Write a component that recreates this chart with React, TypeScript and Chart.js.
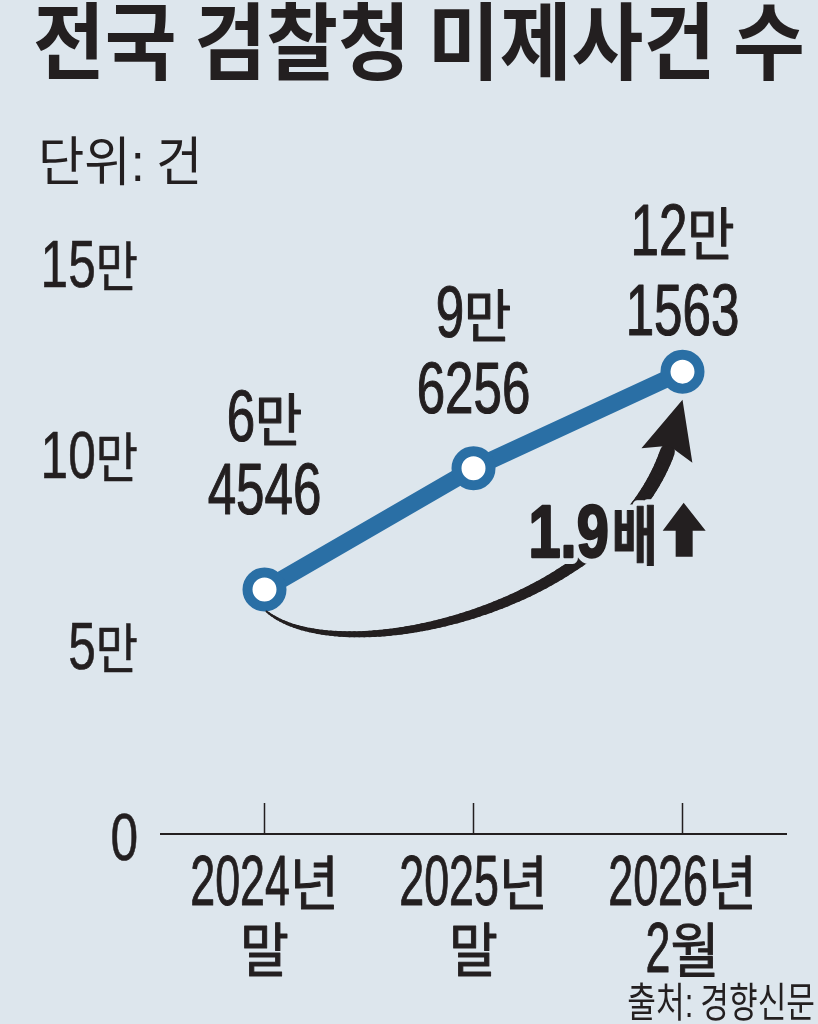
import { useEffect, useRef } from "react";
import { Chart, registerables } from "chart.js";

Chart.register(...registerables);

// ---------- data ----------
const categoryLines = [
  ["2024년", "말"],
  ["2025년", "말"],
  ["2026년", "2월"],
];
const caseCounts = [64546, 96256, 121563];
const yTickValues = [0, 50000, 100000, 150000];
const growthText = "1.9배";
const titleText = "전국 검찰청 미제사건 수";
const unitText = "단위: 건";
const sourceText = "출처: 경향신문";

// ---------- style ----------
const BG = "#dde6ed";
const INK = "#231f20";
const BLUE = "#2a6fa5";
const HANGUL_FAMILY = "'Noto Sans CJK KR', 'Noto Sans CJK SC', sans-serif";
const LATIN_FAMILY = "'Liberation Sans', Arial, sans-serif";

type RunStyle = {
  dSize: number;
  dSx: number;
  hSize: number;
  hSx: number;
  dWeight?: number | string;
  hWeight?: number | string;
  gap?: number;
  halo?: number;
  embolden?: number;
};

const HANGUL_RE = /[\uAC00-\uD7A3\u3130-\u318F ]+|[^\uAC00-\uD7A3\u3130-\u318F ]+/g;

function drawRuns(
  ctx: CanvasRenderingContext2D,
  text: string,
  x: number,
  y: number,
  align: "left" | "center" | "right",
  st: RunStyle
): { left: number; right: number } {
  const runs = text.match(HANGUL_RE) || [];
  const parts = runs.map((r) => {
    const isH = /[\uAC00-\uD7A3\u3130-\u318F]/.test(r) || r.trim() === "";
    const font = isH
      ? `${st.hWeight ?? 400} ${st.hSize}px ${HANGUL_FAMILY}`
      : `${st.dWeight ?? 400} ${st.dSize}px ${LATIN_FAMILY}`;
    const sx = isH ? st.hSx : st.dSx;
    ctx.font = font;
    const w = ctx.measureText(r).width * sx;
    return { r, font, sx, w };
  });
  const gap = st.gap ?? 0;
  const total = parts.reduce((s, p) => s + p.w, 0) + gap * Math.max(0, parts.length - 1);
  const start = align === "left" ? x : align === "center" ? x - total / 2 : x - total;
  const passes = st.halo ? ["halo", "fill"] : ["fill"];
  for (const pass of passes) {
    let cx = start;
    for (const p of parts) {
      ctx.save();
      ctx.translate(cx, y);
      ctx.scale(p.sx, 1);
      ctx.font = p.font;
      ctx.textAlign = "left";
      ctx.textBaseline = "alphabetic";
      if (pass === "halo") {
        ctx.strokeStyle = BG;
        ctx.lineWidth = st.halo as number;
        ctx.lineJoin = "round";
        ctx.strokeText(p.r, 0, 0);
      } else {
        ctx.fillStyle = INK;
        if (st.embolden) {
          ctx.strokeStyle = INK;
          ctx.lineWidth = st.embolden;
          ctx.lineJoin = "round";
          ctx.strokeText(p.r, 0, 0);
        }
        ctx.fillText(p.r, 0, 0);
      }
      ctx.restore();
      cx += p.w + gap;
    }
  }
  return { left: start, right: start + total };
}

// layout constants (pixels relative to the points computed by the scales)
const LABEL_BASELINES = [
  [-148, -75],
  [-131, -55],
  [-117, -37],
];

function formatMan(v: number): string[] {
  return [`${Math.floor(v / 10000)}만`, `${v % 10000}`];
}

const decorPlugin = {
  id: "decor",
  beforeDraw(chart: any) {
    const { ctx, width, height } = chart;
    ctx.save();
    ctx.fillStyle = BG;
    ctx.fillRect(0, 0, width, height);
    ctx.restore();
  },
  beforeDatasetsDraw(chart: any) {
    const { ctx, chartArea } = chart;
    const xs = chart.scales.x;
    const yb = chartArea.bottom - 2;
    ctx.save();
    ctx.strokeStyle = INK;
    ctx.lineWidth = 2;
    ctx.beginPath();
    ctx.moveTo(chartArea.left, yb);
    ctx.lineTo(chartArea.right, yb);
    ctx.stroke();
    ctx.lineWidth = 1.5;
    categoryLines.forEach((_, i) => {
      const px = xs.getPixelForValue(i);
      ctx.beginPath();
      ctx.moveTo(px, yb);
      ctx.lineTo(px, yb - 31);
      ctx.stroke();
    });
    ctx.restore();
  },
  afterDatasetsDraw(chart: any) {
    const { ctx } = chart;
    const pts = chart.getDatasetMeta(0).data;
    const p1 = pts[0];
    const p3 = pts[pts.length - 1];

    // curved growth arrow from first to last point
    const tip = { x: p3.x, y: p3.y + 28 };
    const P0 = { x: p1.x + 2, y: p1.y + 22 };
    const P3 = { x: p3.x - 15, y: p3.y + 80 };
    const C1 = { x: P0.x + 73, y: P0.y + 60 };
    const C2 = { x: p3.x - 72, y: p3.y + 240 };
    const bez = (t: number) => {
      const u = 1 - t;
      return {
        x: u * u * u * P0.x + 3 * u * u * t * C1.x + 3 * u * t * t * C2.x + t * t * t * P3.x,
        y: u * u * u * P0.y + 3 * u * u * t * C1.y + 3 * u * t * t * C2.y + t * t * t * P3.y,
      };
    };
    ctx.save();
    ctx.strokeStyle = INK;
    ctx.lineCap = "round";
    const N = 90;
    for (let i = 0; i < N; i++) {
      const a = bez(i / N);
      const b = bez((i + 1) / N);
      ctx.lineWidth = 2 + 13 * Math.pow(i / N, 0.85);
      ctx.beginPath();
      ctx.moveTo(a.x, a.y);
      ctx.lineTo(b.x, b.y);
      ctx.stroke();
    }
    // arrow head
    const dx = tip.x - P3.x;
    const dy = tip.y - P3.y;
    const len = Math.hypot(dx, dy);
    const ux = dx / len;
    const uy = dy / len;
    const bx = tip.x - ux * 58;
    const by = tip.y - uy * 58;
    ctx.fillStyle = INK;
    ctx.beginPath();
    ctx.moveTo(tip.x, tip.y);
    ctx.lineTo(bx - uy * 27, by + ux * 27);
    ctx.lineTo(bx + ux * 10, by + uy * 10);
    ctx.lineTo(bx + uy * 26, by - ux * 26);
    ctx.closePath();
    ctx.fill();
    ctx.restore();

    // growth text "1.9배" + up arrow
    const gx = p3.x - 154;
    const gy = p3.y + 185;
    const num = growthText.replace(/[^\d.]/g, "");
    const unit = growthText.replace(/[\d.]/g, "");
    const r1 = drawRuns(ctx, num, gx, gy, "left", {
      dSize: 74, dSx: 0.78, hSize: 64, hSx: 0.8, dWeight: 700, hWeight: 700, halo: 14, embolden: 2.5,
    });
    const r2 = drawRuns(ctx, unit, r1.right + 3, gy + 2, "left", {
      dSize: 74, dSx: 0.78, hSize: 64, hSx: 0.78, dWeight: 700, hWeight: 700, halo: 12, embolden: 1,
    });
    const ax = r2.right + 5;
    ctx.save();
    ctx.fillStyle = INK;
    ctx.beginPath();
    ctx.moveTo(ax + 21, gy - 54);
    ctx.lineTo(ax + 43, gy - 26);
    ctx.lineTo(ax + 30, gy - 26);
    ctx.lineTo(ax + 30, gy);
    ctx.lineTo(ax + 13, gy);
    ctx.lineTo(ax + 13, gy - 26);
    ctx.lineTo(ax, gy - 26);
    ctx.closePath();
    ctx.fill();
    ctx.restore();

    // data labels
    const labelStyle: RunStyle = { dSize: 72, dSx: 0.71, hSize: 57, hSx: 0.9, embolden: 1.2 };
    pts.forEach((p: any, i: number) => {
      const [l1, l2] = formatMan(caseCounts[i]);
      const off = LABEL_BASELINES[i];
      drawRuns(ctx, l1, p.x, p.y + off[0], "center", labelStyle);
      drawRuns(ctx, l2, p.x, p.y + off[1], "center", labelStyle);
    });
  },
  afterDraw(chart: any) {
    const { ctx, chartArea } = chart;
    const ys = chart.scales.y;
    const xs = chart.scales.x;

    // y tick labels
    yTickValues.forEach((v) => {
      const py = ys.getPixelForValue(v);
      const label = v === 0 ? "0" : `${v / 10000}만`;
      drawRuns(ctx, label, 138, py + 24, "right", { dSize: 67, dSx: 0.74, hSize: 54, hSx: 0.85, embolden: 0.6 });
    });

    // x category labels
    const xStyle: RunStyle = { dSize: 70, dSx: 0.64, hSize: 59, hSx: 0.9, embolden: 1 };
    categoryLines.forEach((lines, i) => {
      const px = xs.getPixelForValue(i);
      drawRuns(ctx, lines[0], px, chartArea.bottom + 69, "center", xStyle);
      drawRuns(ctx, lines[1], px, chartArea.bottom + 136, "center", xStyle);
    });

    // title, unit, source
    drawRuns(ctx, titleText, 33, 73, "left", { dSize: 84, dSx: 0.93, hSize: 84, hSx: 0.93, hWeight: 700, dWeight: 700 });
    drawRuns(ctx, unitText, 38, 181, "left", { dSize: 53, dSx: 0.95, hSize: 53, hSx: 0.95 });
    drawRuns(ctx, sourceText, 815, 1017, "right", { dSize: 41, dSx: 0.76, hSize: 41, hSx: 0.76 });
  },
};

export default function App() {
  const canvasRef = useRef<HTMLCanvasElement | null>(null);

  useEffect(() => {
    if (!canvasRef.current) return;
    const chart = new Chart(canvasRef.current, {
      type: "line",
      data: {
        labels: categoryLines.map((l) => l.join(" ")),
        datasets: [
          {
            data: caseCounts,
            borderColor: BLUE,
            borderWidth: 17,
            pointRadius: 17,
            pointBorderWidth: 10,
            pointBackgroundColor: "#ffffff",
            pointBorderColor: BLUE,
            tension: 0,
            clip: false,
          },
        ],
      },
      options: {
        responsive: false,
        animation: false,
        devicePixelRatio: 1,
        events: [],
        layout: { padding: { top: 263, bottom: 188, left: 160, right: 31 } },
        plugins: {
          legend: { display: false },
          tooltip: { enabled: false },
          title: { display: false },
        },
        scales: {
          x: { type: "category", offset: true, display: false },
          y: { type: "linear", min: 0, max: 150000, display: false, ticks: { stepSize: 50000 } },
        },
      },
      plugins: [decorPlugin],
    });
    return () => chart.destroy();
  }, []);

  return (
    <div
      style={{
        position: "fixed",
        left: 0,
        top: 0,
        width: 818,
        height: 1024,
        background: BG,
        overflow: "hidden",
      }}
    >
      <canvas ref={canvasRef} width={818} height={1024} style={{ display: "block", width: 818, height: 1024 }} />
    </div>
  );
}
